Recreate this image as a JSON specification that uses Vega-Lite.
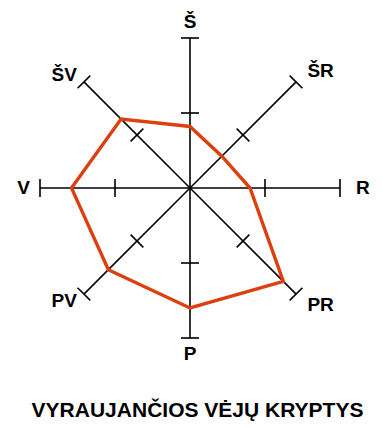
{
  "$schema": "https://vega.github.io/schema/vega-lite/v6.json",
  "width": 382,
  "height": 429,
  "autosize": {"type": "none"},
  "padding": 0,
  "background": "white",
  "config": {"view": {"stroke": null}},
  "datasets": {
    "dirs": [
      {"dir": "Š", "angle": 0, "value": 41},
      {"dir": "ŠR", "angle": 45, "value": 30},
      {"dir": "R", "angle": 90, "value": 40},
      {"dir": "PR", "angle": 135, "value": 88},
      {"dir": "P", "angle": 180, "value": 80},
      {"dir": "PV", "angle": 225, "value": 77},
      {"dir": "V", "angle": 270, "value": 79},
      {"dir": "ŠV", "angle": 315, "value": 65}
    ],
    "titletext": [{"label": "VYRAUJANČIOS VĖJŲ KRYPTYS"}]
  },
  "data": {"name": "dirs"},
  "layer": [
    {
      "transform": [
        {"calculate": "150*sin(datum.angle*PI/180)", "as": "ex"},
        {"calculate": "150*cos(datum.angle*PI/180)", "as": "ey"},
        {"calculate": "0*datum.value", "as": "cx"}
      ],
      "mark": {"type": "rule", "color": "black", "strokeWidth": 1.6},
      "encoding": {
        "x": {"field": "cx", "type": "quantitative", "scale": {"domain": [-190, 192]}, "axis": null},
        "y": {"field": "cx", "type": "quantitative", "scale": {"domain": [-241, 188]}, "axis": null},
        "x2": {"field": "ex"},
        "y2": {"field": "ey"}
      }
    },
    {
      "transform": [
        {"calculate": "150*sin(datum.angle*PI/180)", "as": "ex"},
        {"calculate": "150*cos(datum.angle*PI/180)", "as": "ey"}
      ],
      "mark": {"type": "point", "shape": "M-1,0L1,0", "size": 324, "filled": false, "color": "black", "strokeWidth": 1.6, "opacity": 1},
      "encoding": {
        "x": {"field": "ex", "type": "quantitative", "scale": {"domain": [-190, 192]}, "axis": null},
        "y": {"field": "ey", "type": "quantitative", "scale": {"domain": [-241, 188]}, "axis": null},
        "angle": {"field": "angle", "type": "quantitative", "scale": {"domain": [0, 360], "range": [0, 360]}}
      }
    },
    {
      "transform": [
        {"calculate": "75*sin(datum.angle*PI/180)", "as": "ex"},
        {"calculate": "75*cos(datum.angle*PI/180)", "as": "ey"}
      ],
      "mark": {"type": "point", "shape": "M-1,0L1,0", "size": 324, "filled": false, "color": "black", "strokeWidth": 1.6, "opacity": 1},
      "encoding": {
        "x": {"field": "ex", "type": "quantitative", "scale": {"domain": [-190, 192]}, "axis": null},
        "y": {"field": "ey", "type": "quantitative", "scale": {"domain": [-241, 188]}, "axis": null},
        "angle": {"field": "angle", "type": "quantitative", "scale": {"domain": [0, 360], "range": [0, 360]}}
      }
    },
    {
      "transform": [
        {"calculate": "datum.value*1.5*sin(datum.angle*PI/180)", "as": "px"},
        {"calculate": "datum.value*1.5*cos(datum.angle*PI/180)", "as": "py"}
      ],
      "mark": {"type": "line", "interpolate": "linear-closed", "color": "#dc4010", "strokeWidth": 3.4, "strokeJoin": "miter"},
      "encoding": {
        "x": {"field": "px", "type": "quantitative", "scale": {"domain": [-190, 192]}, "axis": null},
        "y": {"field": "py", "type": "quantitative", "scale": {"domain": [-241, 188]}, "axis": null},
        "order": {"field": "angle", "type": "quantitative"}
      }
    },
    {
      "transform": [
        {"filter": "datum.angle > 0 && datum.angle < 180"},
        {"calculate": "166*sin(datum.angle*PI/180)", "as": "lx"},
        {"calculate": "166*cos(datum.angle*PI/180)", "as": "ly"}
      ],
      "mark": {"type": "text", "align": "left", "baseline": "middle", "font": "Liberation Sans", "fontWeight": "bold", "fontSize": 19, "color": "black"},
      "encoding": {
        "x": {"field": "lx", "type": "quantitative", "scale": {"domain": [-190, 192]}, "axis": null},
        "y": {"field": "ly", "type": "quantitative", "scale": {"domain": [-241, 188]}, "axis": null},
        "text": {"field": "dir", "type": "nominal"}
      }
    },
    {
      "transform": [
        {"filter": "datum.angle > 180"},
        {"calculate": "160*sin(datum.angle*PI/180)", "as": "lx"},
        {"calculate": "160*cos(datum.angle*PI/180)", "as": "ly"}
      ],
      "mark": {"type": "text", "align": "right", "baseline": "middle", "font": "Liberation Sans", "fontWeight": "bold", "fontSize": 19, "color": "black"},
      "encoding": {
        "x": {"field": "lx", "type": "quantitative", "scale": {"domain": [-190, 192]}, "axis": null},
        "y": {"field": "ly", "type": "quantitative", "scale": {"domain": [-241, 188]}, "axis": null},
        "text": {"field": "dir", "type": "nominal"}
      }
    },
    {
      "transform": [
        {"filter": "datum.angle == 0 || datum.angle == 180"},
        {"calculate": "166*sin(datum.angle*PI/180)", "as": "lx"},
        {"calculate": "166*cos(datum.angle*PI/180)", "as": "ly"}
      ],
      "mark": {"type": "text", "align": "center", "baseline": "middle", "font": "Liberation Sans", "fontWeight": "bold", "fontSize": 19, "color": "black"},
      "encoding": {
        "x": {"field": "lx", "type": "quantitative", "scale": {"domain": [-190, 192]}, "axis": null},
        "y": {"field": "ly", "type": "quantitative", "scale": {"domain": [-241, 188]}, "axis": null},
        "text": {"field": "dir", "type": "nominal"}
      }
    },
    {
      "data": {"name": "titletext"},
      "mark": {"type": "text", "align": "center", "baseline": "alphabetic", "font": "Liberation Sans", "fontWeight": "bold", "fontSize": 21, "color": "black"},
      "encoding": {
        "x": {"datum": 7.5, "type": "quantitative", "scale": {"domain": [-190, 192]}, "axis": null},
        "y": {"datum": -228.7, "type": "quantitative", "scale": {"domain": [-241, 188]}, "axis": null},
        "text": {"field": "label", "type": "nominal"}
      }
    }
  ]
}
